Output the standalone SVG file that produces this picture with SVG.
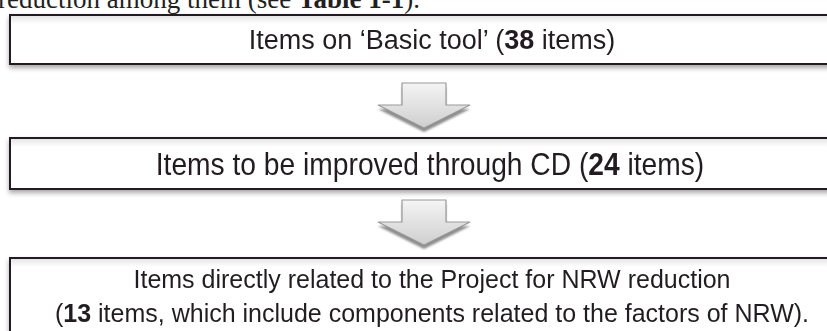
<svg xmlns="http://www.w3.org/2000/svg" width="827" height="331" viewBox="0 0 827 331">
  <defs>
    <filter id="boxShadow" x="-5%" y="-20%" width="110%" height="150%">
      <feGaussianBlur in="SourceAlpha" stdDeviation="2.5"/>
      <feOffset dx="0" dy="3" result="b"/>
      <feComponentTransfer><feFuncA type="linear" slope="0.35"/></feComponentTransfer>
      <feMerge><feMergeNode/><feMergeNode in="SourceGraphic"/></feMerge>
    </filter>
    <filter id="arrowShadow" x="-20%" y="-20%" width="140%" height="150%">
      <feGaussianBlur stdDeviation="1.2"/>
    </filter>
    <linearGradient id="arrowFill" x1="0" y1="0" x2="0" y2="1">
      <stop offset="0" stop-color="#f4f4f4"/>
      <stop offset="1" stop-color="#cfcfcf"/>
    </linearGradient>
    <linearGradient id="innerTop" x1="0" y1="0" x2="0" y2="1">
      <stop offset="0" stop-color="#e6e6e6"/>
      <stop offset="1" stop-color="#ffffff"/>
    </linearGradient>
    <path id="blockArrow" d="M -22 0 H 22 V 22 H 46 L 0 45 L -46 22 H -22 Z"/>
  </defs>
  <style>
    .box { fill: #ffffff; stroke: #231f20; stroke-width: 2; }
    .label { font-family: "Liberation Sans", Arial, sans-serif; fill: #231f20; text-anchor: middle; }
    .body { font-family: "Liberation Serif", "Times New Roman", serif; fill: #231f20; }
    .arrow { fill: url(#arrowFill); stroke: #9a9a9a; stroke-width: 1.2; }
    .arrowShade { fill: #8c8c8c; }
  </style>

  <rect width="827" height="331" fill="#ffffff"/>

  <!-- running text above the figure -->
  <text class="body" x="-2" y="8" font-size="27">reduction among them (see <tspan font-weight="bold">Table 1-1</tspan>).</text>

  <g id="node-basic-tool" filter="url(#boxShadow)">
    <rect class="box" x="10" y="15" width="830" height="49"/>
    <rect x="11" y="16" width="828" height="8" fill="url(#innerTop)"/>
    <text class="label" x="432" y="49" font-size="27">Items on ‘Basic tool’ (<tspan font-weight="bold">38</tspan> items)</text>
  </g>

  <g id="node-cd-items" filter="url(#boxShadow)">
    <rect class="box" x="10" y="138" width="830" height="51"/>
    <rect x="11" y="139" width="828" height="8" fill="url(#innerTop)"/>
    <!-- narrow face: regular sans squeezed horizontally -->
    <text class="label" transform="translate(430,175) scale(0.91,1)" font-size="31">Items to be improved through CD (<tspan font-weight="bold">24</tspan> items)</text>
  </g>

  <g id="node-nrw-items" filter="url(#boxShadow)">
    <rect class="box" x="10" y="258" width="830" height="90"/>
    <rect x="11" y="259" width="828" height="8" fill="url(#innerTop)"/>
    <text class="label" x="432" y="288" font-size="25">Items directly related to the Project for NRW reduction</text>
    <text class="label" x="432" y="322" font-size="25">(<tspan font-weight="bold">13</tspan> items, which include components related to the factors of NRW).</text>
  </g>

  <g id="connectors">
    <g transform="translate(424,83)">
      <use href="#blockArrow" class="arrowShade" transform="translate(0,4)" filter="url(#arrowShadow)"/>
      <use href="#blockArrow" class="arrow"/>
    </g>
    <g transform="translate(424,200)">
      <use href="#blockArrow" class="arrowShade" transform="translate(0,4)" filter="url(#arrowShadow)"/>
      <use href="#blockArrow" class="arrow"/>
    </g>
  </g>
</svg>
